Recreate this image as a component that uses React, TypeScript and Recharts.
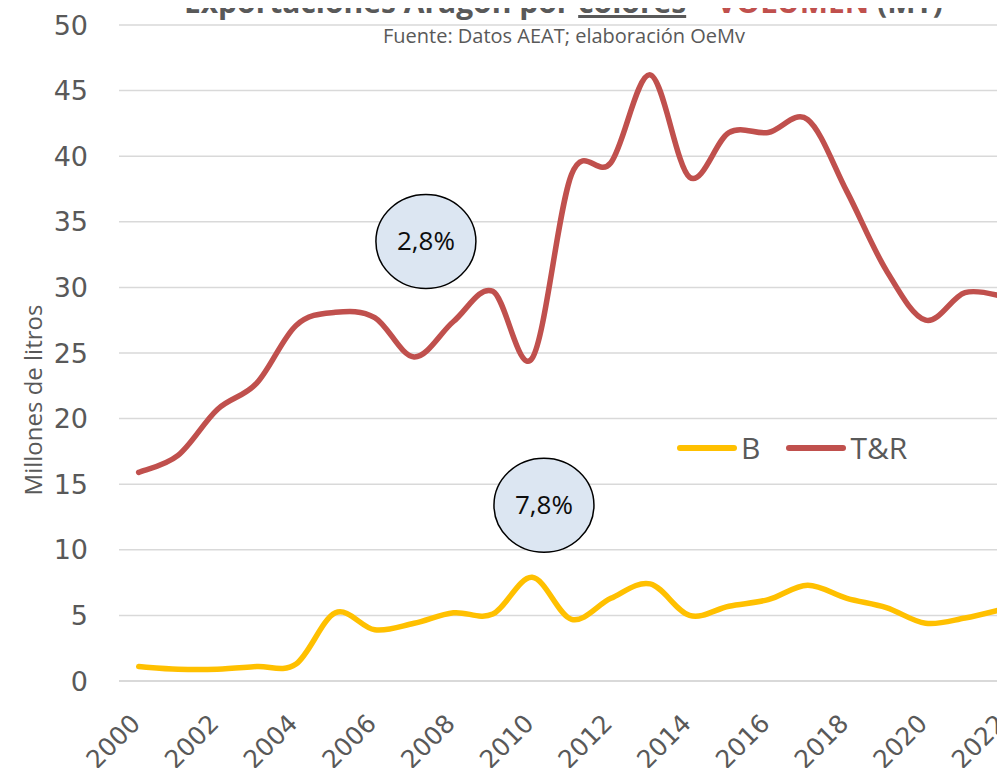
import React from "react";
import { LineChart, Line, XAxis, YAxis, CartesianGrid, ReferenceDot } from "recharts";

const YEARS = [2000, 2001, 2002, 2003, 2004, 2005, 2006, 2007, 2008, 2009, 2010, 2011, 2012, 2013, 2014, 2015, 2016, 2017, 2018, 2019, 2020, 2021, 2022];
const B_VALUES = [1.1, 0.9, 0.9, 1.1, 1.3, 5.2, 3.9, 4.4, 5.2, 5.1, 7.9, 4.7, 6.3, 7.4, 5.0, 5.7, 6.2, 7.3, 6.3, 5.6, 4.4, 4.8, 5.5];
const TR_VALUES = [15.9, 17.2, 20.7, 22.7, 27.1, 28.1, 27.7, 24.7, 27.4, 29.7, 24.6, 38.6, 39.5, 46.2, 38.4, 41.8, 41.8, 42.8, 37.3, 31.3, 27.5, 29.6, 29.3];
const X_TICKS = [2000, 2002, 2004, 2006, 2008, 2010, 2012, 2014, 2016, 2018, 2020, 2022];
const Y_TICKS = [0, 5, 10, 15, 20, 25, 30, 35, 40, 45, 50];
const BUBBLES = [
  { year: 2007.3, value: 33.5, label: "2,8%" },
  { year: 2010.3, value: 13.4, label: "7,8%" },
];
const SERIES = [
  { key: "B", name: "B", color: "#FFC000" },
  { key: "TR", name: "T&R", color: "#C0504D" },
];

const GRAY = "#595959";
const RED = "#C0504D";
const TEXT_FONT = "'Open Sans', sans-serif";
const AXIS_FONT = "'DejaVu Sans', sans-serif";

// Excel-style smoothing: bezier through every point, control points at 1/6 of neighbours
function excelCurve(context: any) {
  let pts: [number, number][] = [];
  return {
    areaStart() {},
    areaEnd() {},
    lineStart() {
      pts = [];
    },
    lineEnd() {
      if (!pts.length) return;
      context.moveTo(pts[0][0], pts[0][1]);
      for (let i = 0; i < pts.length - 1; i++) {
        const p0 = pts[Math.max(i - 1, 0)];
        const p1 = pts[i];
        const p2 = pts[i + 1];
        const p3 = pts[Math.min(i + 2, pts.length - 1)];
        context.bezierCurveTo(
          p1[0] + (p2[0] - p0[0]) / 6,
          p1[1] + (p2[1] - p0[1]) / 6,
          p2[0] - (p3[0] - p1[0]) / 6,
          p2[1] - (p3[1] - p1[1]) / 6,
          p2[0],
          p2[1]
        );
      }
    },
    point(x: number, y: number) {
      pts.push([x, y]);
    },
  };
}

const data = YEARS.map((year, i) => ({ year, B: B_VALUES[i], TR: TR_VALUES[i] }));

function XTick(props: any) {
  const { x, payload } = props;
  const ax = x + 3;
  const ay = 725;
  return (
    <text
      x={ax}
      y={ay}
      transform={`rotate(-45, ${ax}, ${ay})`}
      textAnchor="end"
      fill={GRAY}
      fontSize={25}
      fontFamily={AXIS_FONT}
    >
      {payload.value}
    </text>
  );
}

function Bubble(label: string) {
  return (props: any) => {
    const { cx, cy } = props;
    return (
      <g>
        <ellipse cx={cx} cy={cy} rx={50} ry={47} fill="#DCE6F2" stroke="#000" strokeWidth={1.5} />
        <text x={cx} y={cy + 9} textAnchor="middle" fontSize={26} fontFamily={TEXT_FONT} fill="#0d0d0d">
          {label}
        </text>
      </g>
    );
  };
}

export default function App() {
  return (
    <div style={{ position: "relative", width: 1005, height: 776, margin: -8, overflow: "hidden", background: "#fff" }}>
      <LineChart width={1024} height={776} data={data} margin={{ top: 25, right: 0, bottom: 0, left: 0 }}>
        <CartesianGrid vertical={false} stroke="#D9D9D9" strokeWidth={1.5} />
        <XAxis
          dataKey="year"
          type="number"
          domain={[1999.5, 2022.5]}
          ticks={X_TICKS}
          interval={0}
          height={95}
          tickLine={false}
          tickMargin={0}
          axisLine={{ stroke: "#D9D9D9", strokeWidth: 2 }}
          tick={<XTick />}
        />
        <YAxis
          domain={[0, 50]}
          ticks={Y_TICKS}
          width={119}
          tickLine={false}
          axisLine={false}
          tickMargin={25}
          tick={{ fill: GRAY, fontSize: 27, fontFamily: AXIS_FONT }}
        />
        {SERIES.map((s) => (
          <Line
            key={s.key}
            dataKey={s.key}
            name={s.name}
            type={excelCurve as any}
            stroke={s.color}
            strokeWidth={5.5}
            strokeLinecap="round"
            dot={false}
            isAnimationActive={false}
          />
        ))}
        {BUBBLES.map((b) => (
          <ReferenceDot key={b.label} x={b.year} y={b.value} r={1} ifOverflow="visible" shape={Bubble(b.label)} />
        ))}
      </LineChart>

      {/* legend */}
      <div style={{ position: "absolute", left: 677, top: 433, display: "flex", alignItems: "center" }}>
        {SERIES.map((s) => (
          <div key={s.key} style={{ display: "flex", alignItems: "center", marginRight: 26 }}>
            <div style={{ width: 60, height: 6, borderRadius: 3, background: s.color, marginRight: 4 }} />
            <span style={{ fontSize: 30, color: GRAY, fontFamily: TEXT_FONT, lineHeight: "30px" }}>{s.name}</span>
          </div>
        ))}
      </div>

      <div
        style={{
          position: "absolute",
          left: 0,
          width: 1127,
          top: -13,
          textAlign: "center",
          fontFamily: TEXT_FONT,
          fontWeight: 700,
          fontSize: 30,
          lineHeight: "30px",
          color: GRAY,
          whiteSpace: "nowrap",
        }}
      >
        Exportaciones Aragón por <span style={{ textDecoration: "underline" }}>colores</span> –{" "}
        <span style={{ color: RED }}>VOLUMEN</span> (MT)
      </div>
      <div
        style={{
          position: "absolute",
          left: 0,
          width: 1128,
          top: 25,
          textAlign: "center",
          fontFamily: TEXT_FONT,
          fontSize: 20,
          lineHeight: "22px",
          color: GRAY,
        }}
      >
        Fuente: Datos AEAT; elaboración OeMv
      </div>
      <div
        style={{
          position: "absolute",
          left: 32,
          top: 400,
          transform: "translate(-50%, -50%) rotate(-90deg)",
          fontFamily: TEXT_FONT,
          fontSize: 24,
          color: GRAY,
          whiteSpace: "nowrap",
        }}
      >
        Millones de litros
      </div>
    </div>
  );
}
